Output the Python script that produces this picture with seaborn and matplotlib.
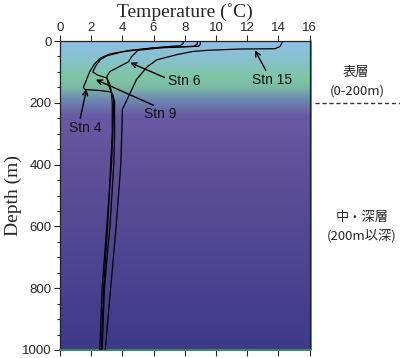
import numpy as np
import pandas as pd
import matplotlib
matplotlib.use("Agg")
import matplotlib.pyplot as plt
from matplotlib.colors import LinearSegmentedColormap
import seaborn as sns

sns.set_style("ticks")
plt.rcParams['font.family'] = ['Liberation Sans', 'Noto Sans CJK JP', 'DejaVu Sans']

# ---- data (temperature °C, depth m) ----
stn15_temp = [14.3, 14.1, 13.8, 11.5, 9.5, 8.5, 7.5, 6.2, 5.6, 4.9, 4.4, 4.0, 3.97, 3.9, 3.6, 3.25, 2.9]
stn15_depth = [0, 18, 25, 26, 30, 34, 44, 61, 83, 125, 179, 221, 285, 400, 600, 800, 1000]

stn6_temp = [9.0, 9.0, 8.9, 6.5, 5.0, 4.6, 4.4, 3.8, 3.2, 3.0, 3.1, 3.3, 3.5, 3.5, 3.45, 3.2, 2.85, 2.7]
stn6_depth = [0, 10, 17, 22, 30, 50, 67, 83, 99, 115, 141, 167, 195, 300, 400, 600, 800, 1000]

stn9_temp = [8.8, 8.8, 8.6, 6.0, 4.0, 3.0, 2.6, 2.3, 2.1, 2.4, 3.0, 3.2, 3.3, 3.35, 3.35, 3.25, 3.05, 2.8, 2.65]
stn9_depth = [0, 10, 17, 22, 35, 48, 60, 80, 100, 110, 120, 140, 170, 200, 300, 400, 600, 800, 1000]

stn4_temp = [7.9, 7.9, 7.7, 6.5, 4.5, 3.2, 2.6, 2.2, 1.9, 1.7, 1.5, 1.6, 2.5, 3.3, 3.4, 3.45, 3.38, 3.3, 3.0, 2.7, 2.55]
stn4_depth = [0, 8, 15, 20, 30, 42, 55, 75, 100, 125, 150, 157, 160, 165, 175, 200, 300, 400, 600, 800, 1000]

stations = ["Stn 15", "Stn 6", "Stn 9", "Stn 4"]
temps = [stn15_temp, stn6_temp, stn9_temp, stn4_temp]
depths = [stn15_depth, stn6_depth, stn9_depth, stn4_depth]

x_ticks = [0, 2, 4, 6, 8, 10, 12, 14, 16]
y_ticks = [0, 200, 400, 600, 800, 1000]

# label text positions and arrow targets (T, depth)
label_pos = {"Stn 15": (13.6, 125), "Stn 6": (8.0, 128), "Stn 9": (6.4, 237), "Stn 4": (1.6, 282)}
arrow_from = {"Stn 15": (13.2, 95), "Stn 6": (6.7, 118), "Stn 9": (6.0, 208), "Stn 4": (1.3, 250)}
arrow_to = {"Stn 15": (12.5, 30), "Stn 6": (4.5, 70), "Stn 9": (2.3, 125), "Stn 4": (1.7, 155)}

df = pd.concat([pd.DataFrame({"station": s, "temp": t, "depth": d})
                for s, t, d in zip(stations, temps, depths)], ignore_index=True)

W, H = 400, 358
TOP, BOT = 41, 350
fig = plt.figure(figsize=(W / 100, H / 100), dpi=100)
ax = fig.add_axes([60 / W, 1 - BOT / H, (309.5 - 60) / W, (BOT - TOP) / H])

# background gradient by depth
stops = [(0, "#8fc0e4"), (60, "#87c2cc"), (115, "#7ec6a4"), (150, "#7ab7a8"),
         (190, "#6e86b2"), (240, "#685aa4"), (400, "#5f5099"), (1000, "#3f398a")]
cmap = LinearSegmentedColormap.from_list("bg", [(d / 1000, c) for d, c in stops])
grad = np.linspace(0, 1, 500).reshape(-1, 1)
ax.imshow(grad, cmap=cmap, aspect="auto", extent=[0, 16, 1000, 0], zorder=0)

for s in stations:
    sub = df[df.station == s]
    sns.lineplot(data=sub, x="temp", y="depth", sort=False, estimator=None,
                 color="black", lw=0.9, ax=ax, zorder=3, orient="y")

ax.set_xlim(0, 16)
ax.set_ylim(1000, 0)
ax.set_xticks(x_ticks)
ax.set_yticks(y_ticks)
ax.set_yticks(np.arange(0, 1001, 50), minor=True)
ax.xaxis.set_ticks_position("both")
ax.tick_params(axis="x", top=True, labeltop=True, bottom=True, labelbottom=False,
               direction="out", length=4, width=0.8, labelsize=9.5, pad=1)
ax.tick_params(axis="y", left=True, right=False, direction="out", length=4,
               width=0.8, labelsize=9.5, pad=2)
ax.tick_params(axis="y", which="minor", length=2.5, width=0.8)
ax.set_xlabel("")
ax.set_ylabel("")
for sp in ax.spines.values():
    sp.set_visible(True)
    sp.set_color("#222222")
    sp.set_linewidth(0.9)
ax.spines["bottom"].set_color("#3d8a5c")
ax.spines["bottom"].set_linewidth(1.5)
ax.plot([1.006, 1.006], [0, 1], transform=ax.transAxes, color="#3d8a5c", lw=1.2, clip_on=False)

for s in stations:
    ax.annotate("", xy=arrow_to[s], xytext=arrow_from[s],
                arrowprops=dict(arrowstyle="->", color="black", lw=1.0, mutation_scale=9,
                                shrinkA=0, shrinkB=0), zorder=4)
    ax.text(*label_pos[s], s, ha="center", va="center", fontsize=10, color="#111111", zorder=5)

fig.text(185 / W, 1 - 12 / H, "Temperature (˚C)", ha="center", va="center",
         fontsize=14, family="Liberation Serif")
fig.text(13 / W, 1 - 196 / H, "Depth (m)", ha="center", va="center", rotation=90,
         fontsize=14, family="Liberation Serif")

jp = ["Noto Sans CJK JP", "DejaVu Sans"]
fig.text(356 / W, 1 - 72 / H, "表層", ha="center", va="center", fontsize=9.5, family=jp)
fig.text(357 / W, 1 - 91 / H, "(0-200m)", ha="center", va="center", fontsize=9.5, family=jp)
fig.lines.append(plt.Line2D([315 / W, 1.0], [1 - 103 / H, 1 - 103 / H], transform=fig.transFigure,
                            color="#333333", lw=1, ls=(0, (3, 2))))
fig.text(362 / W, 1 - 217 / H, "中・深層", ha="center", va="center", fontsize=9.5, family=jp)
fig.text(362 / W, 1 - 236 / H, "(200m以深)", ha="center", va="center", fontsize=9.5, family=jp)

fig.savefig("out.png", dpi=100)
